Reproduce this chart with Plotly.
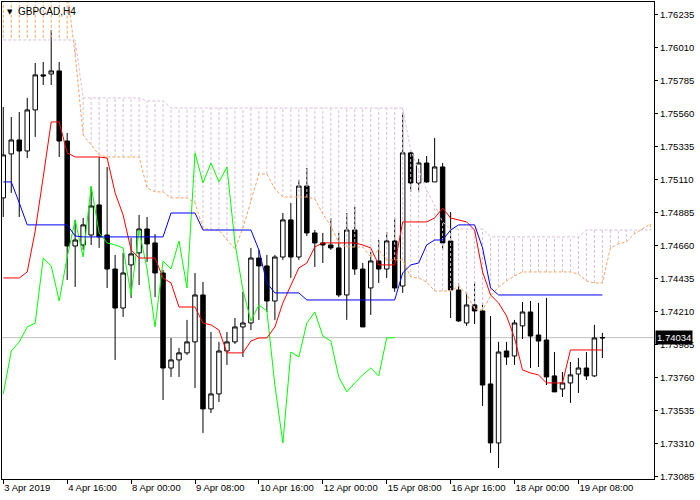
import plotly.graph_objects as go

# ---------------- data ----------------
tick_bars = [0, 8, 16, 24, 32, 40, 48, 56, 64, 72]
tick_labels = ["3 Apr 2019", "4 Apr 16:00", "8 Apr 00:00", "9 Apr 08:00", "10 Apr 16:00",
               "12 Apr 00:00", "15 Apr 08:00", "16 Apr 16:00", "18 Apr 00:00", "19 Apr 08:00"]

price_ticks = [1.76235, 1.76010, 1.75785, 1.75560, 1.75335, 1.75110, 1.74885, 1.74660,
               1.74435, 1.74210, 1.73985, 1.73760, 1.73535, 1.73310, 1.73085]

open_ = [1.74987, 1.75287, 1.75382, 1.75307, 1.75587, 1.75826, 1.75832, 1.75853, 1.75375, 1.74659,
         1.74666, 1.74734, 1.74939, 1.74734, 1.74502, 1.74236, 1.74530, 1.74612, 1.74775, 1.74680,
         1.74475, 1.73827, 1.73882, 1.73930, 1.74005, 1.74325, 1.73548, 1.73650, 1.73943, 1.74005,
         1.74107, 1.74134, 1.74577, 1.74523, 1.74284, 1.74584, 1.74837, 1.74584, 1.75068, 1.74748,
         1.74680, 1.74666, 1.74646, 1.74325, 1.74768, 1.74502, 1.74373, 1.74557, 1.74502, 1.74693,
         1.74386, 1.75294, 1.75089, 1.75225, 1.75096, 1.75198, 1.74693, 1.74359, 1.74134, 1.74257,
         1.74216, 1.73718, 1.73316, 1.73943, 1.73909, 1.74114, 1.74209, 1.74052, 1.74018, 1.73773,
         1.73684, 1.73725, 1.73786, 1.73827, 1.73773, 1.74032]
high = [1.75607, 1.75539, 1.75573, 1.75669, 1.75907, 1.75914, 1.76132, 1.75914, 1.75430, 1.74837,
        1.74850, 1.75062, 1.75266, 1.75198, 1.74598, 1.74612, 1.74714, 1.74871, 1.74857, 1.74741,
        1.74496, 1.74032, 1.73964, 1.74155, 1.74475, 1.74414, 1.74073, 1.74005, 1.74073, 1.74168,
        1.74346, 1.74646, 1.74632, 1.74598, 1.74598, 1.74884, 1.74953, 1.75109, 1.75191, 1.74768,
        1.74748, 1.74850, 1.74748, 1.74884, 1.74925, 1.74543, 1.74618, 1.74700, 1.74755, 1.74850,
        1.75566, 1.75300, 1.75253, 1.75273, 1.75396, 1.75225, 1.74891, 1.74407, 1.74339, 1.74414,
        1.74271, 1.74182, 1.74005, 1.74005, 1.74155, 1.74277, 1.74284, 1.74271, 1.74305, 1.73936,
        1.73800, 1.73868, 1.73895, 1.73936, 1.74121, 1.74066]
low = [1.74857, 1.75021, 1.74857, 1.75259, 1.75403, 1.75757, 1.75757, 1.75266, 1.74427, 1.74380,
       1.74632, 1.74666, 1.74646, 1.74373, 1.73882, 1.74175, 1.74305, 1.74393, 1.74550, 1.74311,
       1.73609, 1.73766, 1.73766, 1.73916, 1.73691, 1.73384, 1.73520, 1.73595, 1.73848, 1.73991,
       1.73902, 1.74086, 1.74155, 1.74209, 1.74155, 1.74564, 1.74441, 1.74564, 1.74727, 1.74516,
       1.74543, 1.74632, 1.74311, 1.74155, 1.74462, 1.74107, 1.74189, 1.74407, 1.74441, 1.74346,
       1.74339, 1.75028, 1.75028, 1.75089, 1.75096, 1.74632, 1.74168, 1.74141, 1.74114, 1.74127,
       1.73568, 1.73248, 1.73145, 1.73848, 1.73848, 1.74025, 1.73827, 1.73834, 1.73711, 1.73664,
       1.73629, 1.73589, 1.73657, 1.73745, 1.73766, 1.73895]
close = [1.75280, 1.75382, 1.75307, 1.75587, 1.75826, 1.75819, 1.75853, 1.75375, 1.74659, 1.74700,
         1.74803, 1.74932, 1.74721, 1.74502, 1.74236, 1.74475, 1.74605, 1.74775, 1.74673, 1.74475,
         1.73827, 1.73882, 1.73930, 1.74005, 1.74325, 1.73548, 1.73650, 1.73943, 1.74005, 1.74107,
         1.74134, 1.74577, 1.74523, 1.74284, 1.74584, 1.74837, 1.74584, 1.75068, 1.74748, 1.74680,
         1.74666, 1.74646, 1.74325, 1.74768, 1.74502, 1.74107, 1.74557, 1.74502, 1.74693, 1.74373,
         1.75294, 1.75089, 1.75225, 1.75096, 1.75198, 1.74680, 1.74359, 1.74148, 1.74257, 1.74216,
         1.73711, 1.73316, 1.73936, 1.73902, 1.74134, 1.74209, 1.74045, 1.74011, 1.73766, 1.73664,
         1.73725, 1.73780, 1.73827, 1.73773, 1.74032, 1.74034]

tenkan = [1.74441, 1.74441, 1.74441, 1.74482, 1.74762, 1.75130, 1.75505, 1.75505, 1.75294, 1.75266,
          1.75266, 1.75266, 1.75266, 1.75259, 1.75021, 1.74871, 1.74632, 1.74577, 1.74577, 1.74577,
          1.74441, 1.74407, 1.74243, 1.74243, 1.74243, 1.74134, 1.74121, 1.74086, 1.73930, 1.73930,
          1.73930, 1.74011, 1.74032, 1.74032, 1.74107, 1.74271, 1.74393, 1.74509, 1.74543, 1.74652,
          1.74680, 1.74680, 1.74680, 1.74680, 1.74680, 1.74666, 1.74646, 1.74530, 1.74530, 1.74530,
          1.74823, 1.74823, 1.74823, 1.74823, 1.74850, 1.74918, 1.74850, 1.74837, 1.74823, 1.74768,
          1.74482, 1.74325, 1.74271, 1.74182, 1.74032, 1.73814, 1.73793, 1.73780, 1.73725, 1.73725,
          1.73725, 1.73950, 1.73950, 1.73950, 1.73950, 1.73950]
kijun = [1.75096, 1.75096, 1.74953, 1.74803, 1.74803, 1.74803, 1.74803, 1.74803, 1.74803, 1.74727,
         1.74721, 1.74721, 1.74721, 1.74721, 1.74721, 1.74721, 1.74721, 1.74721, 1.74721, 1.74721,
         1.74721, 1.74884, 1.74884, 1.74884, 1.74884, 1.74768, 1.74768, 1.74768, 1.74768, 1.74768,
         1.74768, 1.74768, 1.74632, 1.74407, 1.74339, 1.74339, 1.74339, 1.74339, 1.74291, 1.74291,
         1.74291, 1.74291, 1.74291, 1.74291, 1.74291, 1.74291, 1.74291, 1.74291, 1.74291, 1.74291,
         1.74475, 1.74530, 1.74543, 1.74666, 1.74700, 1.74700, 1.74768, 1.74803, 1.74803, 1.74803,
         1.74646, 1.74373, 1.74325, 1.74325, 1.74325, 1.74325, 1.74325, 1.74325, 1.74325, 1.74325,
         1.74325, 1.74325, 1.74325, 1.74325, 1.74325, 1.74325]
senkou_a = [1.76440, 1.76440, 1.76440, 1.76440, 1.76440, 1.76440, 1.76440, 1.76440, 1.76400, 1.75962,
            1.75416, 1.75348, 1.75280, 1.75266, 1.75266, 1.75266, 1.75266, 1.75266, 1.75055, 1.75028,
            1.75028, 1.74987, 1.74987, 1.74987, 1.74953, 1.74782, 1.74768, 1.74768, 1.74700, 1.74639,
            1.74782, 1.74966, 1.75150, 1.75150, 1.75048, 1.74993, 1.74993, 1.74993, 1.74993, 1.74980,
            1.74878, 1.74796, 1.74680, 1.74652, 1.74652, 1.74652, 1.74584, 1.74632, 1.74564, 1.74564,
            1.74564, 1.74448, 1.74441, 1.74414, 1.74352, 1.74352, 1.74352, 1.74386, 1.74332, 1.74230,
            1.74223, 1.74318, 1.74380, 1.74421, 1.74455, 1.74482, 1.74482, 1.74482, 1.74482, 1.74482,
            1.74482, 1.74482, 1.74468, 1.74421, 1.74407, 1.74407, 1.74646, 1.74673, 1.74687, 1.74741,
            1.74775, 1.74809]
senkou_b = [1.76064, 1.76064, 1.76064, 1.76064, 1.76064, 1.76064, 1.76064, 1.76064, 1.76064, 1.76064,
            1.75669, 1.75669, 1.75669, 1.75669, 1.75669, 1.75669, 1.75669, 1.75669, 1.75648, 1.75648,
            1.75648, 1.75600, 1.75600, 1.75600, 1.75600, 1.75600, 1.75600, 1.75600, 1.75600, 1.75600,
            1.75600, 1.75600, 1.75600, 1.75600, 1.75600, 1.75600, 1.75600, 1.75600, 1.75600, 1.75600,
            1.75600, 1.75600, 1.75600, 1.75600, 1.75600, 1.75600, 1.75600, 1.75600, 1.75600, 1.75600,
            1.75600, 1.75314, 1.75178, 1.75041, 1.74939, 1.74823, 1.74775, 1.74775, 1.74775, 1.74775,
            1.74775, 1.74721, 1.74721, 1.74721, 1.74721, 1.74721, 1.74721, 1.74721, 1.74721, 1.74721,
            1.74721, 1.74721, 1.74721, 1.74768, 1.74768, 1.74768, 1.74768, 1.74768, 1.74768, 1.74768,
            1.74768, 1.74768]
last_price = 1.74034
chikou_shift = 26

# ---------------- figure ----------------
bars = list(range(len(close)))
span_x = list(range(len(senkou_a)))
FONT = "Liberation Sans, Arial, sans-serif"
SANDY = "#F4A460"
THISTLE = "#D8BFD8"

fig = go.Figure()

fig.add_shape(type="line", xref="paper", x0=0, x1=1, yref="y", y0=last_price, y1=last_price,
              line=dict(color="#C0C0C0", width=1), layer="below")

fig.add_trace(go.Candlestick(
    x=bars, open=open_, high=high, low=low, close=close,
    increasing=dict(line=dict(color="black", width=1), fillcolor="white"),
    decreasing=dict(line=dict(color="black", width=1), fillcolor="black"),
    whiskerwidth=0, showlegend=False, hoverinfo="skip"))

# hatched cloud
hx_up, hy_up, hx_dn, hy_dn = [], [], [], []
for i, (a, b) in enumerate(zip(senkou_a, senkou_b)):
    if a >= b:
        hx_up += [i, i, None]; hy_up += [a, b, None]
    else:
        hx_dn += [i, i, None]; hy_dn += [a, b, None]
fig.add_trace(go.Scatter(x=hx_up, y=hy_up, mode="lines", connectgaps=False, hoverinfo="skip",
                         line=dict(color=SANDY, width=1, dash="3px,2px"), showlegend=False))
fig.add_trace(go.Scatter(x=hx_dn, y=hy_dn, mode="lines", connectgaps=False, hoverinfo="skip",
                         line=dict(color=THISTLE, width=1, dash="3px,2px"), showlegend=False))

fig.add_trace(go.Scatter(x=span_x, y=senkou_a, mode="lines", hoverinfo="skip", showlegend=False,
                         line=dict(color=SANDY, width=1, dash="3px,2px")))
fig.add_trace(go.Scatter(x=span_x, y=senkou_b, mode="lines", hoverinfo="skip", showlegend=False,
                         line=dict(color=THISTLE, width=1, dash="3px,2px")))

fig.add_trace(go.Scatter(x=bars[:len(close) - chikou_shift], y=close[chikou_shift:], mode="lines",
                         hoverinfo="skip", showlegend=False, line=dict(color="#00FF00", width=1)))
fig.add_trace(go.Scatter(x=bars, y=tenkan, mode="lines", hoverinfo="skip", showlegend=False,
                         line=dict(color="#FF0000", width=1)))
fig.add_trace(go.Scatter(x=bars, y=kijun, mode="lines", hoverinfo="skip", showlegend=False,
                         line=dict(color="#0000FF", width=1)))

fig.update_layout(
    template="none",
    width=700, height=500,
    margin=dict(l=2, r=46, t=2, b=21, pad=0, autoexpand=False),
    paper_bgcolor="white", plot_bgcolor="white",
    font=dict(family=FONT, size=10, color="black"),
    showlegend=False,
    boxgap=0.3, boxgroupgap=0.2,
    xaxis=dict(range=[-0.16, 81.46], showgrid=False, zeroline=False, automargin=False,
               showline=True, mirror=True, linecolor="black", linewidth=1,
               ticks="outside", ticklen=4, tickcolor="black", tickwidth=1,
               tickvals=tick_bars, ticktext=tick_labels,
               ticklabelposition="outside right",
               tickfont=dict(family=FONT, size=9.5, color="black"),
               rangeslider=dict(visible=False), fixedrange=True),
    yaxis=dict(side="right", range=[1.73070, 1.76323], showgrid=False, zeroline=False,
               automargin=False,
               showline=True, mirror=True, linecolor="black", linewidth=1,
               ticks="outside", ticklen=3, tickcolor="black", tickwidth=1,
               tickvals=price_ticks, ticktext=["%.5f" % v for v in price_ticks],
               tickfont=dict(family=FONT, size=9.5, color="black"), fixedrange=True),
)

fig.add_annotation(xref="paper", yref="y", x=1, y=last_price, xanchor="left", yanchor="middle",
                   xshift=1, text="%.5f" % last_price, showarrow=False, bgcolor="black",
                   font=dict(family=FONT, size=9.5, color="white"), borderpad=1)
fig.add_annotation(xref="paper", yref="paper", x=0, y=1, xanchor="left", yanchor="top",
                   xshift=3, yshift=-4, text="▼", showarrow=False,
                   font=dict(family="DejaVu Sans", size=7, color="black"))
fig.add_annotation(xref="paper", yref="paper", x=0, y=1, xanchor="left", yanchor="top",
                   xshift=14, yshift=-2, text="GBPCAD,H4", showarrow=False,
                   font=dict(family=FONT, size=10, color="black"))

# the page's default 8px body margin would shift the whole figure; remove it
fig.write_html("out.html", config={"displayModeBar": False},
               post_script="document.body.style.margin='0px';")
